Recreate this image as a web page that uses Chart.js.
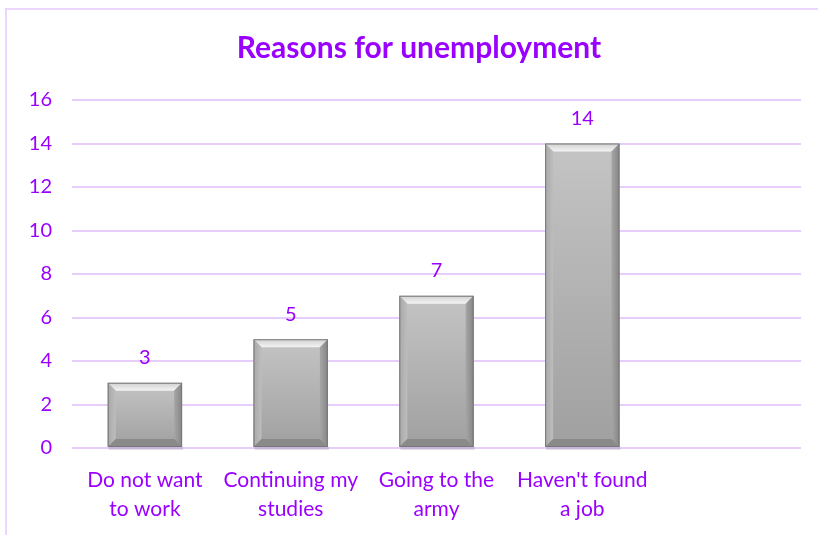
<!DOCTYPE html>
<html><head><meta charset="utf-8">
<script src="https://cdn.jsdelivr.net/npm/chart.js@4/dist/chart.umd.min.js"></script>
<style>
html,body{margin:0;padding:0;background:#fff;overflow:hidden;}
#frame{position:absolute;left:5px;top:8px;width:840px;height:560px;border:2px solid #ecd6ff;box-sizing:border-box;}
#wrap{position:absolute;left:0;top:0;width:818px;height:535px;}
</style></head><body>
<div id="frame"></div>
<div id="wrap"><canvas id="c" width="818" height="535"></canvas></div>
<script>
const titleText = 'Reasons for unemployment';
const categories = [['Do not want','to work'],['Continuing my','studies'],['Going to the','army'],["Haven't found",'a job'],''];
const values = [3,5,7,14,null];
const yTicks = [0,2,4,6,8,10,12,14,16];

const PURPLE = '#9900ff';
const FONT = 'Lato, "Open Sans", sans-serif';

const titlePlugin = {
  id:'fixedTitle',
  afterDraw(chart){
    const ctx = chart.ctx;
    ctx.save();
    ctx.fillStyle=PURPLE; ctx.font='bold 30px '+FONT; ctx.textAlign='center'; ctx.textBaseline='middle';
    ctx.fillText(titleText, 419, 48);
    ctx.restore();
  }
};

const bevelPlugin = {
  id:'bevel',
  afterDatasetsDraw(chart){
    const ctx = chart.ctx;
    const meta = chart.getDatasetMeta(0);
    meta.data.forEach((el,i)=>{
      if (values[i]==null) return;
      const p = el.getProps(['x','y','base','width'],true);
      const l = p.x - p.width/2, r = p.x + p.width/2, t = p.y, b = p.base;
      const s = 8;
      ctx.save();
      ctx.fillStyle='rgba(0,0,0,0.12)';
      ctx.fillRect(l+1,b,r-l,3);
      let g = ctx.createLinearGradient(0,t,0,b);
      g.addColorStop(0,'#c4c4c4'); g.addColorStop(1,'#a0a0a0');
      ctx.fillStyle=g; ctx.fillRect(l,t,r-l,b-t);
      g = ctx.createLinearGradient(0,t,0,t+s);
      g.addColorStop(0,'#d0d0d0'); g.addColorStop(1,'#f4f4f4');
      ctx.fillStyle=g;
      ctx.beginPath(); ctx.moveTo(l,t); ctx.lineTo(r,t); ctx.lineTo(r-s,t+s); ctx.lineTo(l+s,t+s); ctx.closePath(); ctx.fill();
      g = ctx.createLinearGradient(l,0,l+s,0);
      g.addColorStop(0,'#a8a8a8'); g.addColorStop(1,'#bdbdbd');
      ctx.fillStyle=g;
      ctx.beginPath(); ctx.moveTo(l,t); ctx.lineTo(l+s,t+s); ctx.lineTo(l+s,b-s); ctx.lineTo(l,b); ctx.closePath(); ctx.fill();
      g = ctx.createLinearGradient(r-s,0,r,0);
      g.addColorStop(0,'#a6a6a6'); g.addColorStop(1,'#858585');
      ctx.fillStyle=g;
      ctx.beginPath(); ctx.moveTo(r,t); ctx.lineTo(r-s,t+s); ctx.lineTo(r-s,b-s); ctx.lineTo(r,b); ctx.closePath(); ctx.fill();
      ctx.fillStyle='#8a8a8a';
      ctx.beginPath(); ctx.moveTo(l,b); ctx.lineTo(l+s,b-s); ctx.lineTo(r-s,b-s); ctx.lineTo(r,b); ctx.closePath(); ctx.fill();
      ctx.strokeStyle='#777'; ctx.lineWidth=1;
      ctx.strokeRect(l+0.5,t+0.5,r-l-1,b-t-1);
      ctx.fillStyle=PURPLE; ctx.font='20px '+FONT; ctx.textAlign='center'; ctx.textBaseline='middle';
      ctx.fillText(String(values[i]), p.x, t-25);
      ctx.restore();
    });
  }
};

new Chart(document.getElementById('c'),{
  type:'bar',
  data:{labels:categories,datasets:[{data:values,backgroundColor:'rgba(0,0,0,0)',borderWidth:0,barPercentage:0.51,categoryPercentage:1}]},
  options:{
    responsive:false,animation:false,
    layout:{padding:{left:0,right:17,top:100,bottom:0}},
    plugins:{legend:{display:false},tooltip:{enabled:false},title:{display:false}},
    scales:{
      x:{
        grid:{display:false},border:{display:false},
        ticks:{color:PURPLE,font:{family:FONT,size:21,lineHeight:1.36},padding:10,maxRotation:0,autoSkip:false},
        afterFit(s){s.height=87;}
      },
      y:{
        min:0,max:16,
        afterBuildTicks(s){s.ticks=yTicks.map(v=>({value:v}));},
        grid:{color:'#e6cdfb',lineWidth:2,drawTicks:false},
        border:{display:false},
        ticks:{color:PURPLE,font:{family:FONT,size:20},padding:20},
        afterFit(s){s.width=72;}
      }
    }
  },
  plugins:[bevelPlugin,titlePlugin]
});
</script>
</body></html>
